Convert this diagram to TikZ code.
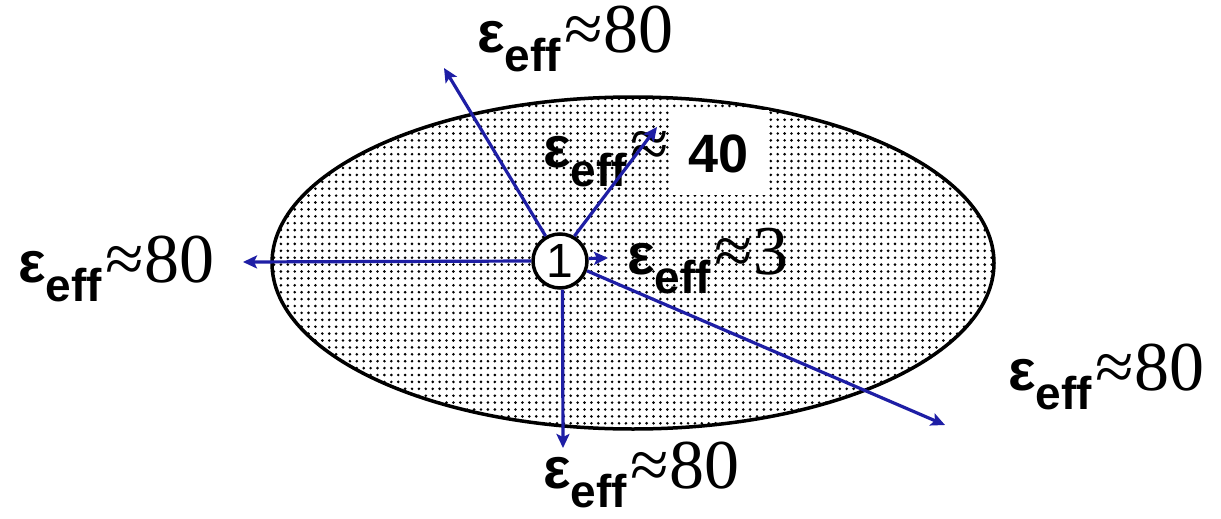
\documentclass[tikz,border=0pt]{standalone}
\usepackage{fontspec}
\setmainfont{Liberation Serif}
\newfontfamily\epsfont{Liberation Sans}
\newfontfamily\sansfont{Liberation Sans}
\usetikzlibrary{arrows.meta,shapes.geometric}
\definecolor{arrcol}{RGB}{30,30,165}
\newcommand\epslab[1]{{\epsfont\bfseries\fontsize{58}{60}\selectfont ε}\raisebox{-19pt}{\sansfont\bfseries\fontsize{46}{48}\selectfont eff}\hspace{4pt}{\fontsize{70}{72}\selectfont ≈#1}}
\tikzset{
  lab/.style={anchor=base west,inner sep=0pt,outer sep=0pt},
  arr/.style={draw=arrcol,line width=3.2pt,-{Stealth[length=14pt,width=13pt,inset=3pt]}},
}
\begin{document}
\begin{tikzpicture}[x=1pt,y=-1pt]
\useasboundingbox (0,0) rectangle (1221,519);
\fill[white] (0,0) rectangle (1221,519);
% ellipse with dot grid
\node[ellipse,minimum width=722pt,minimum height=332pt,inner sep=0pt,outer sep=0pt] (ell) at (633,263) {};
\begin{scope}
  \clip (633,263) ellipse [x radius=361pt,y radius=166pt];
  \foreach \i in {0,...,105}{
    \foreach \j in {0,...,48}{
      \fill[black] (274+6.9*\i,99+6.9*\j) circle (1.45pt);
    }
  }
\end{scope}
\draw[black,line width=3.5pt] (ell.center) ellipse [x radius=361pt,y radius=166pt];
% labels
\node[lab] (lTop) at (477,53) {\epslab{80}};
\node[lab] (lMid) at (543,167) {\epslab{ }};
\fill[white] (669,110) rectangle (769,195);
\node[lab] (l40) at (688,172) {\sansfont\bfseries\fontsize{54}{56}\selectfont 40};
\node[lab] (lLeft) at (18,282) {\epslab{80}};
\node[lab] (lThree) at (627,274) {\epslab{3}};
\node[lab] (lRight) at (1008,390) {\epslab{80}};
\node[lab] (lBot) at (543,488) {\epslab{80}};
% centre
\node[draw=black,line width=3.5pt,circle,fill=white,minimum size=54pt,inner sep=0pt] (c1) at (560,261)
  {\sansfont\fontsize{48}{50}\selectfont 1};
\coordinate (tL) at (243,262);
\coordinate (tUL) at (444,68);
\coordinate (tUR) at (657,127);
\coordinate (t3) at (608,258);
\coordinate (tDR) at (945,425);
\coordinate (tD) at (563,448);
\draw[arr] (c1.west) -- (tL);
\draw[arr] (c1.120) -- (tUL);
\draw[arr] (c1.60) -- (tUR);
\draw[arr] (c1.5) -- (t3);
\draw[arr] (c1.-20) -- (tDR);
\draw[arr] (c1.-85) -- (tD);
\end{tikzpicture}
\end{document}
